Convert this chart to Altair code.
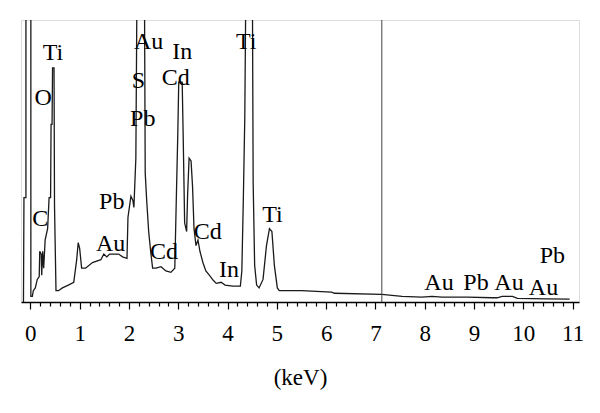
import altair as alt
import pandas as pd

# Spectrum trace (energy in keV, intensity in % of full scale; >100 is off-scale)
energy = [-0.14, -0.13, -0.09, -0.09, 0.01, 0.01, 0.04, 0.06, 0.10, 0.14, 0.18, 0.19, 0.22, 0.23,
          0.25, 0.27, 0.30, 0.35, 0.38, 0.41, 0.42, 0.44, 0.45, 0.48, 0.49, 0.52, 0.57, 0.65, 0.77,
          0.88, 0.94, 0.97, 1.00, 1.04, 1.12, 1.26, 1.43, 1.49, 1.55, 1.61, 1.71, 1.79, 1.87, 1.96,
          1.98, 2.04, 2.08, 2.10, 2.14, 2.17, 2.31, 2.33, 2.36, 2.40, 2.44, 2.48, 2.55, 2.65, 2.75,
          2.85, 2.93, 2.96, 2.99, 3.01, 3.08, 3.10, 3.13, 3.17, 3.19, 3.22, 3.26, 3.29, 3.32, 3.36,
          3.40, 3.44, 3.50, 3.56, 3.63, 3.71, 3.77, 3.87, 3.95, 4.11, 4.26, 4.29, 4.32, 4.35, 4.38,
          4.50, 4.52, 4.55, 4.59, 4.64, 4.72, 4.79, 4.85, 4.90, 4.95, 5.01, 5.05, 5.50, 6.11, 6.17,
          7.13, 7.54, 7.94, 8.15, 8.35, 8.86, 9.37, 9.47, 9.57, 9.78, 9.88, 10.49, 10.94]
counts = [0, 37, 37, 130, 130, 2, 2, 4, 5, 8, 9, 18, 17, 9.5,
          18, 12, 22, 26, 37, 37, 63, 63, 83, 83, 34, 4, 4, 5, 6,
          7, 15, 21, 19, 12, 12, 14, 15, 17, 16, 17, 17, 17, 16, 15.5,
          30, 37.5, 36, 33.5, 51, 130, 130, 45.7, 36, 25, 18, 12, 12, 12.5, 11,
          10.5, 12, 36, 59, 78, 78, 59, 28, 25, 38, 51, 50, 41, 26, 20,
          22, 18, 14, 11, 9.5, 7.7, 6.6, 7, 6, 5.6, 5.6, 11, 36, 65.5, 130,
          130, 42, 13, 6, 5, 8, 20, 26, 25, 13, 5, 4, 4, 3.5, 3.1,
          2.7, 2, 1.7, 2, 1.7, 1.7, 1.5, 1.5, 2, 2, 1.3, 1.1, 1]

# Peak labels
label_text = ["Ti", "O", "C", "Pb", "Au", "Au", "S", "Pb", "In", "Cd", "Cd", "Cd", "In",
              "Ti", "Ti", "Au", "Pb", "Au", "Au", "Pb"]
label_kev = [0.46, 0.26, 0.20, 1.65, 1.63, 2.40, 2.19, 2.28, 3.08, 2.95, 2.71, 3.60, 4.03,
             4.38, 4.91, 8.29, 9.04, 9.71, 10.41, 10.59]
label_val = [88.3, 72.3, 29.4, 35.4, 20.5, 92.2, 78.3, 64.9, 88.5, 79.5, 17.6, 24.7, 11.3,
             92.2, 30.8, 6.6, 6.6, 6.6, 4.9, 16.2]

cursor_kev = [7.13]
tick_values = [round(i * 0.2, 1) for i in range(56)]

FONT = "Liberation Serif"

spec = pd.DataFrame({"keV": energy, "cps": counts})
labels = pd.DataFrame({"t": label_text, "keV": label_kev, "cps": label_val})
cursor = pd.DataFrame({"keV": cursor_kev})

xscale = alt.Scale(domain=[-0.19, 11.13], nice=False, zero=False)
yscale = alt.Scale(domain=[0, 100], nice=False)

is_major = "abs(datum.value - round(datum.value)) < 0.001"
xaxis = alt.Axis(
    values=tick_values,
    labelExpr=is_major + " ? format(datum.value, 'd') : ''",
    labelOverlap=False, labelFlush=False,
    labelFont=FONT, labelFontSize=23, labelColor="black", labelPadding=13,
    tickSize={"condition": {"test": is_major, "value": 7}, "value": 4},
    tickColor="black", tickWidth=1.2, domainColor="black", domainWidth=1.3,
    grid=False, title="(keV)", titleFont=FONT, titleFontSize=23, titleFontWeight="normal",
    titleColor="black", titlePadding=21,
)

line = alt.Chart(spec).transform_window(index="row_number()").mark_line(
    color="#1a1a1a", strokeWidth=1.3, clip=True).encode(
    x=alt.X("keV:Q", scale=xscale, axis=xaxis),
    y=alt.Y("cps:Q", scale=yscale, axis=None),
    order=alt.Order("index:Q"),
)

rule = alt.Chart(cursor).mark_rule(color="#444", strokeWidth=1).encode(
    x=alt.X("keV:Q", scale=xscale, axis=xaxis),
)

text = alt.Chart(labels).mark_text(font=FONT, fontSize=24, color="black",
                                   align="center", baseline="middle").encode(
    x=alt.X("keV:Q", scale=xscale, axis=xaxis),
    y=alt.Y("cps:Q", scale=yscale, axis=None),
    text="t:N",
)

chart = alt.layer(line, rule, text).properties(
    width=558, height=282,
    autosize=alt.AutoSizeParams(type="none"),
    padding={"left": 13, "top": 12, "right": 5, "bottom": 92},
).configure_view(stroke=None).configure(background="white")

chart.save("out.html", embed_options={"renderer": "svg", "actions": False})
